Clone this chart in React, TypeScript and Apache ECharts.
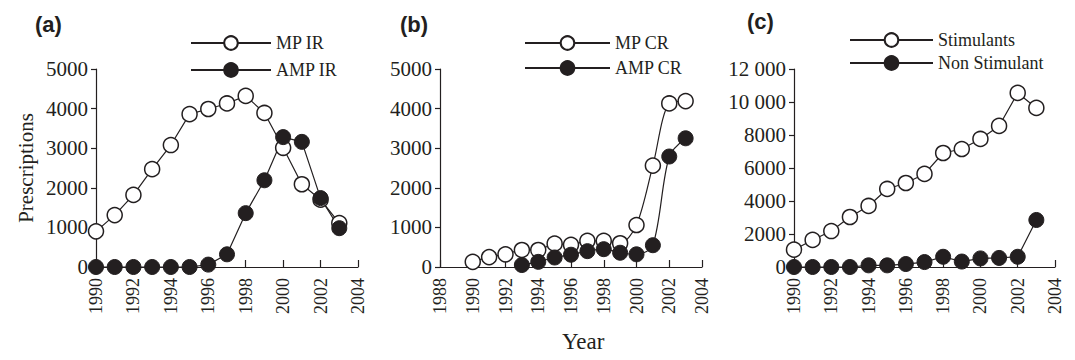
import React, { useEffect, useRef } from "react";
import * as echarts from "echarts";

const yearsA = [1990, 1991, 1992, 1993, 1994, 1995, 1996, 1997, 1998, 1999, 2000, 2001, 2002, 2003];
const mpIR = [900, 1310, 1820, 2470, 3080, 3860, 3990, 4130, 4320, 3890, 3010, 2090, 1700, 1110];
const ampIR = [0, 0, 0, 0, 0, 0, 60, 320, 1360, 2190, 3280, 3160, 1740, 980];

const yearsMpCR = [1990, 1991, 1992, 1993, 1994, 1995, 1996, 1997, 1998, 1999, 2000, 2001, 2002, 2003];
const mpCR = [130, 250, 320, 430, 430, 590, 560, 660, 660, 600, 1060, 2560, 4130, 4190];
const yearsAmpCR = [1993, 1994, 1995, 1996, 1997, 1998, 1999, 2000, 2001, 2002, 2003];
const ampCR = [50, 130, 240, 310, 400, 450, 360, 320, 550, 2790, 3250];

const yearsC = [1990, 1991, 1992, 1993, 1994, 1995, 1996, 1997, 1998, 1999, 2000, 2001, 2002, 2003];
const stimulants = [1050, 1640, 2180, 3030, 3700, 4730, 5090, 5640, 6910, 7150, 7760, 8550, 10550, 9640];
const nonStimulant = [0, 0, 0, 0, 100, 100, 180, 300, 620, 330, 520, 550, 620, 2850];

const yTicksC = ["0", "2000", "4000", "6000", "8000", "10 000", "12 000"];

const INK = "#231f20";
const SERIF = "'Liberation Serif', 'DejaVu Serif', serif";
const SANS = "'Liberation Sans', Arial, sans-serif";

function pairs(xs: number[], ys: number[]) {
  return xs.map((x, i) => [x, ys[i]]);
}

export default function App() {
  const ref = useRef<HTMLDivElement>(null);
  useEffect(() => {
    if (!ref.current) return;
    const chart = echarts.init(ref.current, undefined, { renderer: "svg" });
    const grids = [
      { left: 96, top: 69, width: 262, height: 198 },
      { left: 440, top: 69, width: 262, height: 198 },
      { left: 794, top: 69, width: 261, height: 198 },
    ];
    const axisLine = { show: true, lineStyle: { color: INK, width: 1.2 } };
    const mkX = (gi: number, min: number) => ({
      type: "value",
      gridIndex: gi,
      min,
      max: 2004,
      interval: 2,
      axisLine: { ...axisLine, onZero: false },
      axisTick: { show: true, inside: true, length: 7, lineStyle: { color: INK, width: 1.2 } },
      splitLine: { show: false },
      axisLabel: {
        rotate: 90,
        margin: 11,
        color: INK,
        fontFamily: SERIF,
        fontSize: 18,
        formatter: (v: number) => String(v),
      },
    });
    const mkY = (gi: number, max: number, interval: number, fmt?: (v: number) => string) => ({
      type: "value",
      gridIndex: gi,
      min: 0,
      max,
      interval,
      axisLine: { ...axisLine, onZero: false },
      axisTick: { show: true, inside: false, length: 5, lineStyle: { color: INK, width: 1.2 } },
      splitLine: { show: false },
      axisLabel: {
        margin: 8,
        color: INK,
        fontFamily: SERIF,
        fontSize: 21,
        formatter: fmt || ((v: number) => String(v)),
      },
    });
    const openStyle = {
      symbol: "circle",
      symbolSize: 15,
      itemStyle: { color: "#ffffff", borderColor: INK, borderWidth: 1.5 },
      lineStyle: { color: INK, width: 1.2 },
    };
    const fillStyle = {
      symbol: "circle",
      symbolSize: 15,
      itemStyle: { color: INK, borderColor: INK, borderWidth: 1 },
      lineStyle: { color: INK, width: 1.2 },
    };
    const legendCommon = {
      orient: "vertical",
      itemHeight: 17,
      padding: 0,
      textStyle: { color: INK, fontFamily: SERIF, fontSize: 18 },
      selectedMode: false,
    };
    chart.setOption({
      animation: false,
      backgroundColor: "#ffffff",
      grid: grids,
      xAxis: [mkX(0, 1990), mkX(1, 1988), mkX(2, 1990)],
      yAxis: [
        {
          ...mkY(0, 5000, 1000),
          name: "Prescriptions",
          nameLocation: "middle",
          nameGap: 60,
          nameTextStyle: { color: INK, fontFamily: SERIF, fontSize: 21 },
        },
        mkY(1, 5000, 1000),
        mkY(2, 12000, 2000, (v: number) => yTicksC[Math.round(v / 2000)]),
      ],
      legend: [
        { ...legendCommon, data: ["MP IR", "AMP IR"], left: 190, top: 34, itemWidth: 80, itemGap: 9 },
        { ...legendCommon, data: ["MP CR", "AMP CR"], left: 524, top: 34, itemWidth: 85, itemGap: 7 },
        { ...legendCommon, data: ["Stimulants", "Non Stimulant"], left: 849, top: 31, itemWidth: 83, itemGap: 5 },
      ],
      series: [
        { type: "line", name: "MP IR", xAxisIndex: 0, yAxisIndex: 0, data: pairs(yearsA, mpIR), clip: false, ...openStyle },
        { type: "line", name: "AMP IR", xAxisIndex: 0, yAxisIndex: 0, data: pairs(yearsA, ampIR), clip: false, ...fillStyle },
        { type: "line", name: "MP CR", xAxisIndex: 1, yAxisIndex: 1, data: pairs(yearsMpCR, mpCR), clip: false, smooth: 0.3, ...openStyle },
        { type: "line", name: "AMP CR", xAxisIndex: 1, yAxisIndex: 1, data: pairs(yearsAmpCR, ampCR), clip: false, smooth: 0.3, ...fillStyle },
        { type: "line", name: "Stimulants", xAxisIndex: 2, yAxisIndex: 2, data: pairs(yearsC, stimulants), clip: false, ...openStyle },
        { type: "line", name: "Non Stimulant", xAxisIndex: 2, yAxisIndex: 2, data: pairs(yearsC, nonStimulant), clip: false, ...fillStyle },
      ],
      graphic: [
        { type: "text", left: 35, top: 13, style: { text: "(a)", font: `bold 22px ${SANS}`, fill: INK } },
        { type: "text", left: 400, top: 13, style: { text: "(b)", font: `bold 22px ${SANS}`, fill: INK } },
        { type: "text", left: 747, top: 10, style: { text: "(c)", font: `bold 22px ${SANS}`, fill: INK } },
        { type: "text", left: 562, top: 330, style: { text: "Year", font: `23px ${SERIF}`, fill: INK } },
      ],
    });
    return () => chart.dispose();
  }, []);
  return (
    <div
      ref={ref}
      style={{ position: "absolute", left: 0, top: 0, width: 1075, height: 360 }}
    />
  );
}
